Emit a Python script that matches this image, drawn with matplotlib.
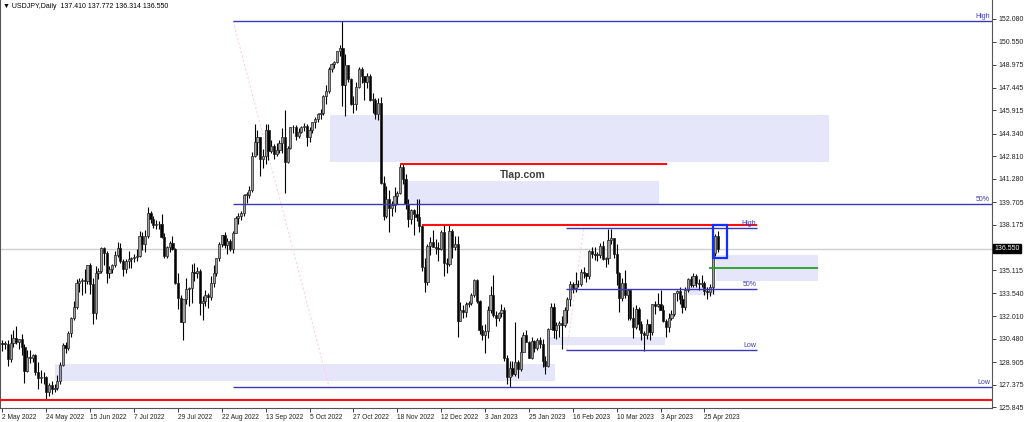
import matplotlib
matplotlib.use("Agg")
import matplotlib.pyplot as plt
import matplotlib.transforms as mtransforms
from matplotlib.patches import Rectangle

plt.rcParams["font.family"] = ["Liberation Sans", "DejaVu Sans"]

# ── données : USDJPY daily, 2 May 2022 -> 2 May 2023 (une bougie par jour ouvré) ──
opens = [
    # May 2022
    130.18, 130.12, 130.15, 129.10, 130.20, 130.56, 130.28, 130.43, 129.95, 128.30, 129.27,
    129.18, 129.38, 128.20, 127.80, 127.88, 127.90, 126.85, 127.35, 127.10, 127.12, 127.60,
    # Jun
    128.70, 130.05, 129.88, 130.87, 131.88, 132.65, 134.23, 134.35, 134.42, 134.40, 135.45,
    134.20, 132.20, 134.95, 135.05, 136.62, 136.25, 134.95, 135.20, 135.45, 136.12, 136.60,
    # Jul
    135.72, 135.20, 135.70, 135.88, 135.95, 136.00, 136.10, 137.45, 136.85, 137.45, 138.95,
    138.55, 138.15, 138.20, 138.22, 137.35, 136.10, 136.65, 136.95, 136.55, 134.25,
    # Aug
    133.25, 131.62, 133.15, 133.85, 133.90, 135.00, 134.95, 135.05, 132.90, 133.00, 133.45,
    133.30, 134.25, 134.90, 135.90, 136.90, 137.48, 136.78, 137.10, 136.55, 137.60, 138.65, 138.78,
    # Sep
    138.95, 140.20, 140.20, 140.50, 142.80, 143.75, 144.10, 142.60, 142.85, 144.55, 143.15,
    143.50, 142.95, 143.20, 143.70, 144.10, 142.40, 143.35, 144.75, 144.78, 144.15, 144.45,
    # Oct
    144.75, 144.85, 144.10, 144.60, 145.10, 145.30, 145.65, 145.75, 146.85, 147.20, 148.70,
    149.05, 149.20, 149.88, 150.10, 147.65, 148.95, 148.00, 146.35, 146.30, 147.45,
    # Nov
    148.70, 148.20, 147.85, 148.25, 146.60, 146.60, 145.65, 146.40, 141.00, 138.80, 139.95,
    139.30, 139.50, 140.15, 140.35, 142.05, 141.25, 139.60, 138.55, 139.20, 138.90, 138.70,
    # Dec
    138.10, 135.35, 134.30, 136.75, 137.00, 136.65, 136.60, 136.55, 137.70, 135.60, 135.50,
    137.75, 136.70, 136.85, 131.70, 132.45, 132.30, 132.80, 132.90, 133.45, 134.45, 133.05,
    # Jan 2023
    131.10, 130.70, 131.00, 132.45, 133.40, 132.10, 131.90, 132.25, 132.45, 129.20, 127.90,
    128.50, 128.10, 128.90, 128.45, 129.60, 130.70, 130.25, 129.20, 130.30, 129.85, 130.40,
    # Feb
    130.10, 128.95, 128.65, 131.15, 132.60, 131.05, 131.40, 131.55, 131.40, 132.45,
    133.15, 134.15, 133.90, 134.15, 134.20, 135.00, 134.90, 134.70, 136.40, 136.20,
    # Mar
    136.15, 136.15, 136.75, 135.85, 135.90, 137.15, 137.25, 136.20, 134.95, 133.25, 134.25, 133.45,
    133.75, 131.85, 131.30, 132.50, 131.45, 130.85, 130.70, 131.45, 130.90, 132.85, 132.70,
    # Apr / May
    132.85, 132.45, 131.70, 131.30, 131.85, 132.15, 133.55, 133.70, 133.15, 132.60, 133.75,
    134.50, 134.10, 134.70, 134.25, 134.15, 134.25, 133.70, 133.65, 133.95, 136.30, 137.41,
]
highs = [
    130.37, 130.32, 130.41, 130.80, 131.10, 131.35, 130.45, 130.80, 130.10, 129.75, 129.70,
    129.45, 129.45, 128.94, 128.38, 128.25, 127.95, 127.50, 127.60, 127.45, 128.00, 128.88,
    130.20, 130.25, 130.98, 131.98, 133.00, 134.48, 134.56, 134.60, 135.19, 135.45, 135.60,
    134.60, 135.40, 135.25, 136.70, 136.70, 136.40, 135.40, 135.50, 136.40, 137.00, 136.95,
    135.85, 135.85, 136.38, 136.00, 136.20, 136.55, 137.75, 137.68, 137.85, 139.39, 139.10,
    138.80, 138.50, 138.40, 138.87, 137.60, 136.75, 137.05, 137.45, 136.60, 134.90,
    133.40, 133.05, 134.55, 134.00, 135.50, 135.58, 135.35, 135.20, 133.35, 133.75, 133.60,
    134.70, 135.48, 135.90, 137.00, 137.50, 137.70, 137.25, 137.20, 137.75, 138.80, 138.95, 139.10,
    140.23, 140.40, 140.80, 143.08, 144.99, 144.55, 144.10, 143.30, 144.95, 144.95, 143.90,
    143.60, 143.70, 143.90, 144.70, 145.90, 143.50, 144.80, 144.90, 144.90, 144.70, 144.85,
    145.05, 144.95, 144.80, 145.15, 145.45, 145.70, 146.00, 146.95, 147.65, 148.85, 149.10,
    149.25, 149.90, 150.30, 151.94, 149.70, 148.95, 148.10, 146.90, 147.85, 148.80,
    148.85, 148.25, 148.40, 148.35, 147.10, 146.75, 146.75, 146.80, 141.45, 140.78, 140.50,
    139.80, 140.75, 140.45, 142.25, 142.25, 141.60, 139.95, 139.25, 139.25, 139.90, 139.90,
    138.15, 135.95, 136.90, 137.35, 137.85, 137.20, 137.00, 137.80, 138.20, 135.95, 138.18,
    137.90, 137.45, 137.45, 132.95, 132.75, 132.95, 133.00, 133.60, 134.50, 134.50, 133.10,
    131.40, 131.45, 132.70, 134.05, 134.78, 132.35, 132.30, 132.85, 132.60, 129.35, 129.00,
    128.95, 131.58, 129.05, 130.60, 130.90, 131.10, 130.35, 130.60, 130.40, 130.55, 130.60,
    130.45, 129.30, 131.20, 132.90, 132.90, 131.60, 131.70, 132.00, 132.60, 133.30,
    134.35, 134.30, 135.00, 134.45, 135.20, 135.35, 134.95, 136.50, 136.70, 136.70,
    136.35, 136.95, 137.10, 136.00, 137.90, 137.91, 137.30, 136.90, 135.00, 134.55, 135.10, 133.85,
    133.80, 132.60, 132.75, 132.60, 131.65, 131.00, 131.80, 131.50, 132.85, 133.00, 133.60,
    133.75, 132.75, 131.80, 132.20, 132.40, 133.60, 133.80, 134.00, 133.40, 134.00, 134.60,
    134.70, 134.90, 134.85, 134.50, 134.75, 134.35, 134.00, 134.20, 136.55, 137.55, 137.772,
]
lows = [
    129.68, 129.77, 128.62, 128.92, 129.95, 130.15, 129.78, 129.40, 127.52, 128.20, 128.85,
    128.92, 128.05, 127.05, 127.50, 127.40, 126.36, 126.60, 126.75, 126.85, 127.00, 127.40,
    128.65, 129.52, 129.70, 130.60, 131.76, 132.50, 133.65, 133.40, 133.60, 134.20, 133.50,
    131.49, 131.80, 134.50, 134.90, 135.45, 134.27, 134.60, 134.90, 135.35, 136.00, 135.60,
    134.74, 134.95, 135.25, 135.27, 135.65, 135.70, 136.00, 136.45, 136.35, 137.30, 138.30,
    137.95, 137.90, 137.90, 137.30, 135.95, 135.90, 136.35, 136.45, 134.20, 132.50,
    131.60, 130.41, 132.85, 132.70, 132.90, 134.35, 134.55, 132.05, 131.75, 132.70, 132.55,
    133.10, 134.00, 134.70, 135.75, 136.70, 136.60, 136.20, 136.40, 136.25, 137.60, 138.20, 138.50,
    138.75, 139.65, 140.00, 140.40, 142.75, 142.90, 141.50, 142.00, 142.25, 142.55, 143.00,
    142.60, 142.85, 143.05, 143.05, 140.35, 142.35, 143.30, 144.40, 143.90, 144.05, 144.40,
    144.50, 143.50, 143.75, 144.40, 144.70, 145.10, 145.30, 145.60, 146.35, 147.10, 148.50,
    148.75, 149.10, 149.60, 146.20, 145.55, 147.85, 146.25, 145.70, 145.90, 147.40,
    147.75, 146.60, 147.40, 146.55, 145.75, 145.30, 145.25, 140.90, 138.47, 138.60, 137.67,
    138.75, 139.05, 139.60, 140.25, 140.95, 139.25, 138.05, 138.25, 137.50, 138.45, 137.70,
    135.05, 133.62, 134.10, 136.15, 136.65, 136.20, 135.70, 136.50, 134.70, 134.90, 135.40,
    135.95, 136.45, 130.60, 131.65, 131.85, 131.95, 132.60, 132.75, 133.30, 132.90, 130.80,
    130.40, 129.52, 130.55, 132.25, 131.95, 131.35, 131.65, 131.95, 129.00, 127.45, 127.22,
    127.95, 127.95, 127.80, 128.30, 129.55, 130.25, 129.15, 129.10, 129.55, 129.70, 129.85,
    128.55, 128.08, 128.55, 131.15, 130.50, 130.45, 130.60, 129.80, 131.25, 131.55,
    132.70, 133.60, 133.65, 133.95, 134.05, 134.55, 134.30, 134.50, 135.90, 135.80,
    135.70, 135.90, 135.80, 135.35, 135.50, 136.90, 135.95, 134.10, 132.28, 133.00, 133.25, 131.75,
    131.75, 130.55, 131.15, 131.10, 130.40, 129.64, 130.45, 130.40, 130.70, 132.15, 132.65,
    132.40, 131.60, 130.60, 130.90, 131.75, 132.00, 133.05, 132.80, 132.25, 132.40, 133.65,
    134.00, 134.00, 133.95, 133.80, 133.95, 133.40, 133.15, 133.35, 133.50, 136.05, 136.314,
]
closes = [
    130.12, 130.15, 129.10, 130.20, 130.56, 130.28, 130.43, 129.95, 128.30, 129.27, 129.18,
    129.38, 128.20, 127.80, 127.88, 127.90, 126.85, 127.35, 127.10, 127.12, 127.60, 128.70,
    130.05, 129.88, 130.87, 131.88, 132.65, 134.23, 134.35, 134.42, 134.40, 135.45, 134.20,
    132.20, 134.95, 135.05, 136.62, 136.25, 134.95, 135.20, 135.45, 136.12, 136.60, 135.72,
    135.20, 135.70, 135.88, 135.95, 136.00, 136.10, 137.45, 136.85, 137.45, 138.95, 138.55,
    138.15, 138.20, 138.22, 137.35, 136.10, 136.65, 136.95, 136.55, 134.25, 133.25,
    131.62, 133.15, 133.85, 133.90, 135.00, 134.95, 135.05, 132.90, 133.00, 133.45, 133.30,
    134.25, 134.90, 135.90, 136.90, 137.48, 136.78, 137.10, 136.55, 137.60, 138.65, 138.78, 138.95,
    140.20, 140.20, 140.50, 142.80, 143.75, 144.10, 142.60, 142.85, 144.55, 143.15, 143.50,
    142.95, 143.20, 143.70, 144.10, 142.40, 143.35, 144.75, 144.78, 144.15, 144.45, 144.75,
    144.85, 144.10, 144.60, 145.10, 145.30, 145.65, 145.75, 146.85, 147.20, 148.70, 149.05,
    149.20, 149.88, 150.10, 147.65, 148.95, 148.00, 146.35, 146.30, 147.45, 148.70,
    148.20, 147.85, 148.25, 146.60, 146.60, 145.65, 146.40, 141.00, 138.80, 139.95, 139.30,
    139.50, 140.15, 140.35, 142.05, 141.25, 139.60, 138.55, 139.20, 138.90, 138.70, 138.10,
    135.35, 134.30, 136.75, 137.00, 136.65, 136.60, 136.55, 137.70, 135.60, 135.50, 137.75,
    136.70, 136.85, 131.70, 132.45, 132.30, 132.80, 132.90, 133.45, 134.45, 133.05, 131.10,
    130.70, 131.00, 132.45, 133.40, 132.10, 131.90, 132.25, 132.45, 129.20, 127.90, 128.50,
    128.10, 128.90, 128.45, 129.60, 130.70, 130.25, 129.20, 130.30, 129.85, 130.40, 130.10,
    128.95, 128.65, 131.15, 132.60, 131.05, 131.40, 131.55, 131.40, 132.45, 133.15,
    134.15, 133.90, 134.15, 134.20, 135.00, 134.90, 134.70, 136.40, 136.20, 136.15,
    136.15, 136.75, 135.85, 135.90, 137.15, 137.25, 136.20, 134.95, 133.25, 134.25, 133.45, 133.75,
    131.85, 131.30, 132.50, 131.45, 130.85, 130.70, 131.45, 130.90, 132.85, 132.70, 132.85,
    132.45, 131.70, 131.30, 131.85, 132.15, 133.55, 133.70, 133.15, 132.60, 133.75, 134.50,
    134.10, 134.70, 134.25, 134.15, 134.25, 133.70, 133.65, 133.95, 136.30, 137.45, 136.55,
]

date_labels = ["2 May 2022", "24 May 2022", "15 Jun 2022", "7 Jul 2022", "29 Jul 2022",
               "22 Aug 2022", "13 Sep 2022", "5 Oct 2022", "27 Oct 2022", "18 Nov 2022",
               "12 Dec 2022", "3 Jan 2023", "25 Jan 2023", "16 Feb 2023", "10 Mar 2023",
               "3 Apr 2023", "25 Apr 2023"]
LABEL_STEP = 16   # un libellé toutes les 16 bougies

price_ticks = [152.080, 150.550, 148.975, 147.445, 145.915, 144.340, 142.810, 141.280,
               139.705, 138.175, 135.115, 133.540, 132.010, 130.480, 128.905, 127.375, 125.845]
last_price = 136.550
header = "\u25bc USDJPY,Daily  137.410 137.772 136.314 136.550"

# Fibonacci (haut/bas) et niveaux tracés à la main
fib1_high, fib1_low = 151.94, 127.22
fib2_high, fib2_low = 137.94, 129.70
red_levels = [(145, 242.3, 142.25), (153, 275.2, 138.18)]
red_floor = 126.36
green_level = (257.7, 297.4, 135.28)

# zones (x0, x1, bas, haut) en index de bougie / prix
zones = [(119.4, 301.4, 142.42, 145.59),
         (146.8, 239.4, 139.58, 141.10),
         (19.1, 201.5, 127.63, 128.77),
         (198.6, 241.6, 130.06, 130.60),
         (260.2, 297.4, 134.38, 136.14),
         (250.0, 259.8, 133.43, 133.97)]

assert len(opens) == len(highs) == len(lows) == len(closes)

# ── figure ──────────────────────────────────────────────────────────────────
W, H = 1024, 422
fig = plt.figure(figsize=(W / 100, H / 100), dpi=100)
ax = fig.add_axes([0, 14 / H, 992 / W, 408 / H])
ax.set_xlim(-0.91, 360.9)
ax.set_ylim(125.80, 153.358)

FIB = "#3a3ab8"
ZONE = "#e6e6fa"

for x0, x1, lo, hi in zones:
    ax.add_patch(Rectangle((x0, lo), x1 - x0, hi - lo, facecolor=ZONE, edgecolor="none", zorder=1))

ax.axhline(last_price, color="#cfcfcf", lw=1, zorder=1.5)

# bougies
idx = list(range(len(closes)))
bull = [c >= o for o, c in zip(opens, closes)]
bottoms = [min(o, c) for o, c in zip(opens, closes)]
heights = [max(abs(c - o), 0.04) for o, c in zip(opens, closes)]
ax.vlines(idx, lows, highs, color="black", lw=0.8, zorder=2)
ax.bar(idx, heights, bottom=bottoms, width=0.8,
       color=["#a0a0a0" if b else "black" for b in bull],
       edgecolor="#202020", linewidth=0.5, zorder=2.5)

# Fibonacci 1 (rayon vers la droite)
x_right = ax.get_xlim()[1]
fib1_mid = (fib1_high + fib1_low) / 2
for lvl in (fib1_high, fib1_mid, fib1_low):
    ax.hlines(lvl, 84.1, x_right, color=FIB, lw=1, zorder=3)
ax.plot([84.1, 119.1], [fib1_high, fib1_low], color="#ffd0d8", lw=0.8, ls=(0, (2, 2)), zorder=1.6)
blend = mtransforms.blended_transform_factory(ax.transAxes, ax.transData)
for lvl, txt in [(fib1_high, "High"), (fib1_mid, "50%"), (fib1_low, "Low")]:
    ax.text(0.998, lvl + 0.08, txt, transform=blend, ha="right", va="bottom", fontsize=5, color=FIB)

# Fibonacci 2
fib2_mid = (fib2_high + fib2_low) / 2
for lvl in (fib2_high, fib2_mid, fib2_low):
    ax.hlines(lvl, 205.5, 275.2, color=FIB, lw=1, zorder=3)
ax.plot([205.8, 212.0], [fib2_low, fib2_high], color="#ffd0d8", lw=0.8, ls=(0, (2, 2)), zorder=1.6)
for lvl, txt in [(fib2_high, "High"), (fib2_mid, "50%"), (fib2_low, "Low")]:
    ax.text(275.0, lvl + 0.08, txt, ha="right", va="bottom", fontsize=5, color=FIB, zorder=4)

# niveaux rouges / vert
for x0, x1, lvl in red_levels:
    ax.hlines(lvl, x0, x1, color="#ff1010", lw=1.5, zorder=3)
ax.axhline(red_floor, color="#ff1010", lw=1.5, zorder=3)
ax.hlines(green_level[2], green_level[0], green_level[1], color="#20a020", lw=1.3, zorder=3)

# cadre bleu autour des dernières bougies
ax.add_patch(Rectangle((259.1, 135.93), 5.1, 2.23, facecolor="none",
                       edgecolor="#1030ff", lw=1.6, zorder=4))

ax.text(189.8, 141.54, "Tlap.com", ha="center", va="center", fontsize=7.5,
        color="#404040", fontweight="bold", zorder=4)

# axes façon MT4
ax.yaxis.tick_right()
ax.set_yticks(price_ticks)
ax.set_yticklabels([f"{p:.3f}" for p in price_ticks])
ax.tick_params(axis="y", direction="out", length=3, width=0.6, pad=1.5, labelsize=5, colors="#222")
ax.set_xticks([i * LABEL_STEP for i in range(len(date_labels))])
ax.set_xticklabels(date_labels, ha="left")
ax.tick_params(axis="x", direction="out", length=3, width=0.6, pad=1, labelsize=4.8, colors="#222")
for side in ("left", "right", "bottom"):
    ax.spines[side].set_color("#555555")
    ax.spines[side].set_linewidth(0.8)
ax.spines["top"].set_visible(False)

ax.annotate(f"{last_price:.3f}", xy=(1, last_price), xycoords=blend,
            xytext=(1.5, 0), textcoords="offset points", ha="left", va="center",
            fontsize=5, color="white",
            bbox=dict(boxstyle="square,pad=0.15", facecolor="black", edgecolor="black"))

fig.text(3 / W, 1 - 6 / H, header, fontsize=5, va="center", ha="left", color="black")

fig.savefig("out.png", dpi=100)
